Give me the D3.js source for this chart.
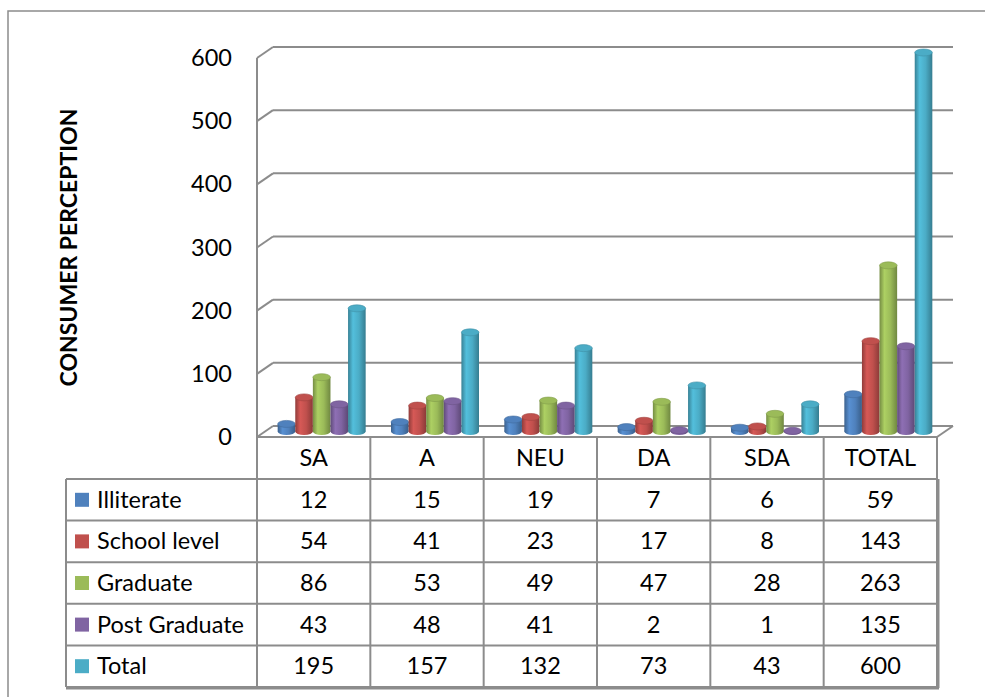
<!DOCTYPE html>
<html>
<head>
<meta charset="utf-8">
<script src="https://cdn.jsdelivr.net/npm/d3@7"></script>
<style>
  html, body { margin: 0; padding: 0; background: #ffffff; }
  svg { display: block; }
  text { font-family: Lato, "Open Sans", sans-serif; fill: #000; }
</style>
</head>
<body>
<svg id="chart" width="985" height="697"></svg>
<script>
// Responses by education level for each perception category
const categories = ["SA", "A", "NEU", "DA", "SDA", "TOTAL"];
const seriesNames = ["Illiterate", "School level", "Graduate", "Post Graduate", "Total"];
const illiterate   = [12, 15, 19, 7, 6, 59];
const schoolLevel  = [54, 41, 23, 17, 8, 143];
const graduate     = [86, 53, 49, 47, 28, 263];
const postGraduate = [43, 48, 41, 2, 1, 135];
const totals       = [195, 157, 132, 73, 43, 600];
const seriesColors = ["#4F81BD", "#C0504D", "#9BBB59", "#8064A2", "#4BACC6"];
const yTicks = [0, 100, 200, 300, 400, 500, 600];
const yTitle = "CONSUMER PERCEPTION";

const seriesValues = [illiterate, schoolLevel, graduate, postGraduate, totals];

const svg = d3.select("#chart");
const gridColor = "#8c8c8c";
const fontSize = "23.5px";

// plot geometry (front plane) and 3D depth offset
const plot = { left: 257, right: 937, bottom: 437, top: 58 };
const depth = { dx: 16, dy: -11 };

const x = d3.scaleBand().domain(categories).range([plot.left, plot.right]);
const y = d3.scaleLinear().domain([0, 600]).range([plot.bottom, plot.top]);
const xs = d3.scaleBand().domain(seriesNames).range([0, x.bandwidth()])
  .paddingInner(0).paddingOuter(0.72);

// chart frame
svg.append("rect")
  .attr("x", 8).attr("y", 11).attr("width", 1000).attr("height", 720)
  .attr("fill", "none").attr("stroke", gridColor).attr("stroke-width", 1.5);

// gridlines on back wall, with diagonals across the side wall
const grid = svg.append("g").attr("stroke", gridColor).attr("stroke-width", 2).attr("fill", "none");
yTicks.forEach(t => {
  const yf = y(t), yb = y(t) + depth.dy;
  grid.append("line")
    .attr("x1", plot.left + depth.dx).attr("x2", plot.right + depth.dx)
    .attr("y1", yb).attr("y2", yb);
  grid.append("line")
    .attr("x1", plot.left).attr("y1", yf)
    .attr("x2", plot.left + depth.dx).attr("y2", yb);
});
// side wall front edge
grid.append("line")
  .attr("x1", plot.left).attr("x2", plot.left)
  .attr("y1", y(600)).attr("y2", plot.bottom);
// floor edges
grid.append("line")
  .attr("x1", plot.left).attr("x2", plot.right)
  .attr("y1", plot.bottom).attr("y2", plot.bottom);
grid.append("line")
  .attr("x1", plot.right).attr("y1", plot.bottom)
  .attr("x2", plot.right + depth.dx).attr("y2", plot.bottom + depth.dy);

// y axis labels
const yAxis = d3.axisLeft(y).tickValues(yTicks).tickSize(0).tickPadding(25);
const yAxisG = svg.append("g").attr("transform", `translate(${plot.left},0)`).call(yAxis);
yAxisG.select(".domain").remove();
yAxisG.selectAll("text")
  .style("font-family", "Lato, 'Open Sans', sans-serif")
  .style("font-size", fontSize).attr("fill", "#000");

// y axis title
svg.append("text")
  .attr("transform", `translate(77,${(y(600) + plot.bottom) / 2 }) rotate(-90)`)
  .attr("text-anchor", "middle")
  .style("font-size", "23px").style("font-weight", "bold")
  .text(yTitle);

// gradients for the cylinder bodies
const defs = svg.append("defs");
seriesColors.forEach((c, i) => {
  const base = d3.color(c);
  const g = defs.append("linearGradient").attr("id", "cyl" + i)
    .attr("x1", "0%").attr("x2", "100%").attr("y1", "0%").attr("y2", "0%");
  g.append("stop").attr("offset", "0%").attr("stop-color", base.darker(0.8));
  g.append("stop").attr("offset", "28%").attr("stop-color", base.brighter(0.3));
  g.append("stop").attr("offset", "62%").attr("stop-color", base);
  g.append("stop").attr("offset", "100%").attr("stop-color", base.darker(0.9));
});

// cylinders sit at mid depth
const mid = { dx: depth.dx / 2, dy: depth.dy / 2 };
const ry = 3.5;
const bars = svg.append("g");
categories.forEach((cat, ci) => {
  seriesNames.forEach((s, si) => {
    const v = seriesValues[si][ci];
    const x0 = x(cat) + xs(s) + mid.dx;
    const w = xs.bandwidth();
    const cx = x0 + w / 2;
    const yb = y(0) + mid.dy;
    const yt = y(v) + mid.dy;
    const base = d3.color(seriesColors[si]);
    const g = bars.append("g");
    g.append("ellipse")
      .attr("cx", cx).attr("cy", yb).attr("rx", w / 2).attr("ry", ry)
      .attr("fill", `url(#cyl${si})`);
    g.append("rect")
      .attr("x", x0).attr("y", yt).attr("width", w).attr("height", Math.max(0, yb - yt))
      .attr("fill", `url(#cyl${si})`);
    g.append("ellipse")
      .attr("cx", cx).attr("cy", yt).attr("rx", w / 2).attr("ry", ry)
      .attr("fill", base).attr("stroke", base.darker(0.5)).attr("stroke-width", 0.6);
  });
});

// data table
const tableLeft = 66;
const headerBottom = 479;
const rowH = (687 - headerBottom) / seriesNames.length;
const rowY = d3.range(seriesNames.length + 1).map(i => headerBottom + i * rowH);
const table = svg.append("g").attr("stroke", gridColor).attr("stroke-width", 2);

// column separators
categories.concat([null]).forEach((cat, i) => {
  const xx = cat ? x(cat) : plot.right;
  table.append("line").attr("x1", xx).attr("x2", xx)
    .attr("y1", plot.bottom).attr("y2", rowY[rowY.length - 1]);
});
table.append("line").attr("x1", tableLeft).attr("x2", tableLeft)
  .attr("y1", headerBottom).attr("y2", rowY[rowY.length - 1]);
rowY.forEach(yy => {
  table.append("line").attr("x1", tableLeft).attr("x2", plot.right)
    .attr("y1", yy).attr("y2", yy);
});
// heavier outer edge on right and bottom
table.append("line").attr("x1", plot.right + 1).attr("x2", plot.right + 1)
  .attr("y1", headerBottom).attr("y2", rowY[rowY.length - 1] + 1).attr("stroke-width", 3);
table.append("line").attr("x1", tableLeft).attr("x2", plot.right + 2)
  .attr("y1", rowY[rowY.length - 1] + 1).attr("y2", rowY[rowY.length - 1] + 1).attr("stroke-width", 3);

// header labels
svg.append("g").selectAll("text").data(categories).join("text")
  .attr("x", d => x(d) + x.bandwidth() / 2)
  .attr("y", (plot.bottom + headerBottom) / 2 + 8)
  .attr("text-anchor", "middle")
  .style("font-size", fontSize)
  .text(d => d);

// rows: legend key, series name, values
seriesNames.forEach((s, si) => {
  const cy = rowY[si] + rowH / 2;
  svg.append("rect")
    .attr("x", 75).attr("y", cy - 7).attr("width", 14).attr("height", 14)
    .attr("fill", seriesColors[si]);
  svg.append("text")
    .attr("x", 97).attr("y", cy + 8)
    .style("font-size", fontSize)
    .text(s);
  categories.forEach((cat, ci) => {
    svg.append("text")
      .attr("x", x(cat) + x.bandwidth() / 2)
      .attr("y", cy + 8)
      .attr("text-anchor", "middle")
      .style("font-size", fontSize)
      .text(seriesValues[si][ci]);
  });
});
</script>
</body>
</html>
